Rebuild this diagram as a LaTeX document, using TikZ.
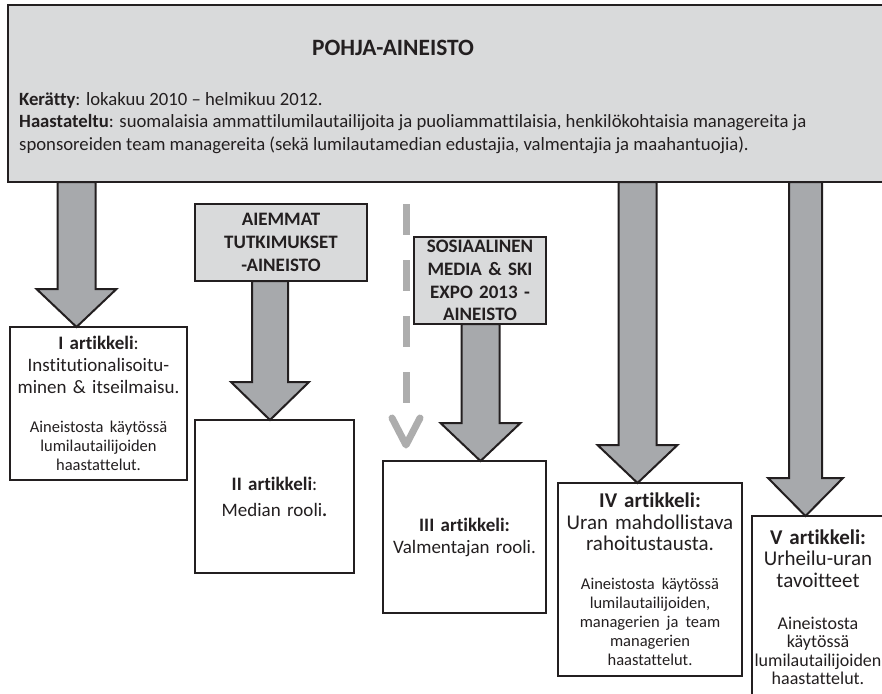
\documentclass[tikz,border=0pt]{standalone}
\usepackage{fontspec}
\setmainfont{Carlito}[Ligatures={TeX,NoCommon}]
\usetikzlibrary{calc}

\definecolor{reunus}{HTML}{231F20}
\definecolor{pohjaharmaa}{HTML}{D9DADB}
\definecolor{nuoliharmaa}{HTML}{A7A9AC}
\definecolor{katkoharmaa}{HTML}{ADADAD}

\newcommand\otsikkofont{\fontsize{23.4}{28}\selectfont\bfseries}
\newcommand\tietofont{\fontsize{18.7}{22.5}\selectfont}
\newcommand\lahdefont{\fontsize{19}{22.7}\selectfont\bfseries}
\newcommand\isofont{\fontsize{19}{22}\selectfont}
\newcommand\suurifont{\fontsize{21}{21.5}\selectfont}
\newcommand\pienifont{\fontsize{16.5}{19}\selectfont}
\newcommand\keskifont{\fontsize{18}{18.4}\selectfont}

% paksu harmaa nuoli: [varren puolileveys] x, mistä, mihin
\newcommand\isonuoli[4][19]{%
  \filldraw[nuoli] let \p1=(#3.south), \p2=(#4.north) in
    (#2pt-#1pt,\y1) -- (#2pt-#1pt,\y2+38pt) -- (#2pt-#1pt-21pt,\y2+38pt)
    -- (#2pt,\y2) -- (#2pt+#1pt+21pt,\y2+38pt) -- (#2pt+#1pt,\y2+38pt)
    -- (#2pt+#1pt,\y1) -- cycle;}

\begin{document}
\begin{tikzpicture}[x=1pt, y=-1pt,
    pohjabox/.style={draw=reunus, line width=2.5pt, fill=pohjaharmaa,
      anchor=north west, outer sep=0pt, inner sep=0pt},
    lahdebox/.style={pohjabox, align=center, font=\lahdefont, text=reunus},
    artbox/.style={draw=reunus, line width=2.5pt, fill=white, anchor=north west,
      outer sep=0pt, inner sep=0pt, align=center, text=reunus, font=\isofont},
    nuoli/.style={draw=reunus, line width=2pt, fill=nuoliharmaa, line join=miter},
    katko/.style={draw=katkoharmaa, line width=7pt, dash pattern=on 31pt off 25pt},
    katkokarki/.style={draw=katkoharmaa, line width=7pt, line cap=round, line join=round}]
\useasboundingbox (0,0) rectangle (882,693);
\clip (0,0) rectangle (882,693);

% pohja-aineisto
\node[pohjabox, minimum width=920pt, minimum height=177pt] (pohja) at (8,5) {};
\node[font=\otsikkofont, text=reunus] (otsikko) at (393,48) {POHJA-AINEISTO};
\node[anchor=north west, inner sep=0pt, align=left, font=\tietofont, text=reunus] (tiedot) at (19,92)
  {\textbf{Kerätty}: lokakuu 2010 -- helmikuu 2012.\\
   \textbf{Haastateltu}: suomalaisia ammattilumilautailijoita ja puoliammattilaisia, henkilökohtaisia managereita ja\\
   sponsoreiden team managereita (sekä lumilautamedian edustajia, valmentajia ja maahantuojia).};

% muut aineistot
\node[lahdebox, text width=172pt, minimum height=77pt] (aiemmat) at (195,204)
  {AIEMMAT\\TUTKIMUKSET\\-AINEISTO};
\node[lahdebox, text width=132pt, minimum height=87pt] (some) at (414,237)
  {SOSIAALINEN\\MEDIA \& SKI\\EXPO 2013 -\\AINEISTO};

% artikkelit
\node[artbox, text width=177pt, minimum height=153pt] (art1) at (10,327)
  {\textbf{I artikkeli}:\\Institutionalisoitu-\\minen \& itseilmaisu.\par
   \vspace{20pt}
   {\pienifont Aineistosta käytössä\\lumilautailijoiden\\haastattelut.\par}};
\node[artbox, text width=159pt, minimum height=153pt] (art2) at (195,420)
  {\textbf{II artikkeli}:\\[4pt]Median rooli\textbf{.}\par};
\node[artbox, text width=163pt, minimum height=152pt] (art3) at (383,461)
  {\textbf{III artikkeli:}\\Valmentajan rooli.\par};
\node[artbox, font=\suurifont, text width=184pt, minimum height=193pt] (art4) at (558,483)
  {\textbf{IV artikkeli:}\\Uran mahdollistava\\rahoitustausta.\par
   \vspace{20pt}
   {\pienifont Aineistosta käytössä\\lumilautailijoiden,\\managerien ja team\\managerien\\haastattelut.\par}};
\node[artbox, font=\suurifont, text width=132pt, minimum height=182pt] (art5) at (752,516)
  {\textbf{V artikkeli:}\\Urheilu-uran\\tavoitteet\par
   \vspace{24pt}
   {\keskifont Aineistosta\\käytössä\\lumilautailijoiden\\haastattelut.\par}};

% katkoviiva
\coordinate (katkoalku) at (406,204);
\coordinate (katkoloppu) at (406,404);
\coordinate (karki) at (406,445);
\draw[katko] (katkoalku) -- (katkoloppu);
\draw[katkokarki] ($(karki)+(-14,-27)$) -- (karki) -- ($(karki)+(14,-27)$);

% nuolet
\isonuoli{76.5}{pohja}{art1}
\isonuoli[18]{270}{aiemmat}{art2}
\isonuoli{480.5}{some}{art3}
\isonuoli{637.5}{pohja}{art4}
\isonuoli[16.5]{805.5}{pohja}{art5}
\end{tikzpicture}
\end{document}
